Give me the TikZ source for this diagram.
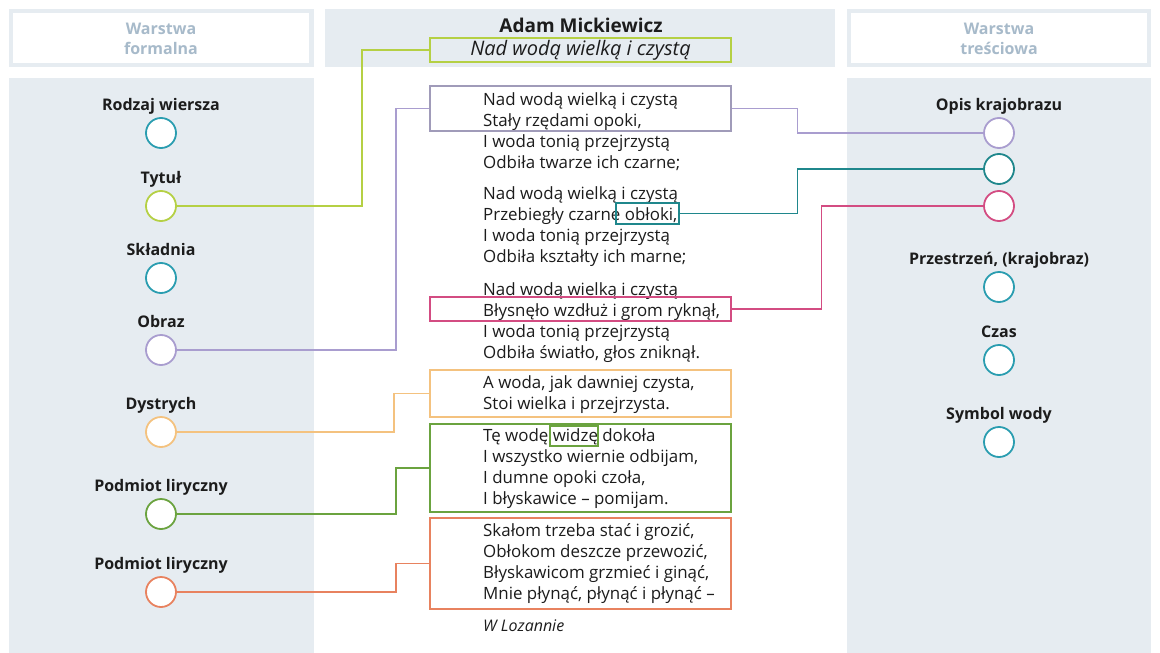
\documentclass[tikz,border=0pt]{standalone}
\usepackage{fontspec}
\setmainfont{Open Sans}
\usetikzlibrary{positioning}
\definecolor{panel}{HTML}{E6ECF1}
\definecolor{headtxt}{HTML}{A7BACA}
\definecolor{ink}{HTML}{1C1C1C}
\definecolor{cTeal}{HTML}{2A9DB0}
\definecolor{cLime}{HTML}{B5D044}
\definecolor{cPurple}{HTML}{A99DCF}
\definecolor{cGray}{HTML}{A09BB9}
\definecolor{cSand}{HTML}{F4C27F}
\definecolor{cGreen}{HTML}{6BA33F}
\definecolor{cCoral}{HTML}{E8825F}
\definecolor{cPetrol}{HTML}{1F878C}
\definecolor{cPink}{HTML}{D34C82}
\begin{document}
\begin{tikzpicture}[x=1pt,y=-1pt]
% style
\tikzset{
head/.style={font=\bfseries\fontsize{16}{20}\selectfont, text=headtxt, align=center},
dot/.style={circle, draw=#1, line width=1.8pt, fill=white, minimum size=30pt, inner sep=0pt},
lbl/.style={font=\bfseries\fontsize{16}{20}\selectfont, text=ink, inner sep=0pt, text height=12pt, text depth=4pt},
stanza/.style={font=\fontsize{16.9}{21}\selectfont, text=ink, align=left, inner sep=0pt, anchor=base west},
frame/.style={draw=#1, line width=1.3pt, inner sep=0pt},
link/.style={draw=#1, line width=1.3pt}
}
\useasboundingbox (0,0) rectangle (1160,653);
% tla kolumn
\fill[white] (0,0) rectangle (1160,653);
\fill[panel] (9,9) rectangle (314,67);
\fill[white] (13,13) rectangle (309,63);
\fill[panel] (9,78) rectangle (314,653);
\fill[panel] (325,9) rectangle (835,67);
\fill[panel] (847,9) rectangle (1151,67);
\fill[white] (851,13) rectangle (1147,63);
\fill[panel] (847,78) rectangle (1151,653);
% naglowki
\node[head] (hForm) at (161,39) {Warstwa\\formalna};
\node[head] (hTresc) at (999,39) {Warstwa\\treściowa};
\node[font=\bfseries\fontsize{19}{23}\selectfont, text=ink] (autor) at (581,25) {Adam Mickiewicz};
\node[frame=cLime, minimum width=301pt, minimum height=24pt, font=\itshape\fontsize{20}{24}\selectfont, text=ink] (bTytul) at (580.5,50) {Nad wodą wielką i czystą};
% warstwa formalna
\node[dot=cTeal] (cRodzaj) at (161,133) {};
\node[lbl, above=2pt of cRodzaj] (lRodzaj) {Rodzaj wiersza};
\node[dot=cLime] (cTytul) at (161,206) {};
\node[lbl, above=2pt of cTytul] (lTytul) {Tytuł};
\node[dot=cTeal] (cSkladnia) at (161,278) {};
\node[lbl, above=2pt of cSkladnia] (lSkladnia) {Składnia};
\node[dot=cPurple] (cObraz) at (161,350) {};
\node[lbl, above=2pt of cObraz] (lObraz) {Obraz};
\node[dot=cSand] (cDystrych) at (161,432) {};
\node[lbl, above=2pt of cDystrych] (lDystrych) {Dystrych};
\node[dot=cGreen] (cPodmiotA) at (161,514) {};
\node[lbl, above=2pt of cPodmiotA] (lPodmiotA) {Podmiot liryczny};
\node[dot=cCoral] (cPodmiotB) at (161,592) {};
\node[lbl, above=2pt of cPodmiotB] (lPodmiotB) {Podmiot liryczny};
% warstwa tresciowa
\node[dot=cPurple] (oOpis) at (999,133) {};
\node[lbl, above=2pt of oOpis] (lOpis) {Opis krajobrazu};
\node[dot=cPetrol] (oOpisB) at (999,169) {};
\node[dot=cPink] (oOpisC) at (999,206) {};
\node[dot=cTeal] (oPrzestrzen) at (999,287) {};
\node[lbl, above=2pt of oPrzestrzen] (lPrzestrzen) {Przestrzeń, (krajobraz)};
\node[dot=cTeal] (oCzas) at (999,360) {};
\node[lbl, above=2pt of oCzas] (lCzas) {Czas};
\node[dot=cTeal] (oSymbol) at (999,442) {};
\node[lbl, above=2pt of oSymbol] (lSymbol) {Symbol wody};
% wiersz (punkt = linia bazowa ostatniego wersu)
\node[stanza] (s1) at (483,168) {Nad wodą wielką i czystą\\Stały rzędami opoki,\\I woda tonią przejrzystą\\Odbiła twarze ich czarne;};
\node[stanza] (s2) at (483,262) {Nad wodą wielką i czystą\\Przebiegły czarne obłoki,\\I woda tonią przejrzystą\\Odbiła kształty ich marne;};
\node[stanza] (s3) at (483,358) {Nad wodą wielką i czystą\\Błysnęło wzdłuż i grom ryknął,\\I woda tonią przejrzystą\\Odbiła światło, głos zniknął.};
\node[stanza] (s4) at (483,409) {A woda, jak dawniej czysta,\\Stoi wielka i przejrzysta.};
\node[stanza] (s5) at (483,504) {Tę wodę widzę dokoła\\I wszystko wiernie odbijam,\\I dumne opoki czoła,\\I błyskawice – pomijam.};
\node[stanza] (s6) at (483,599) {Skałom trzeba stać i grozić,\\Obłokom deszcze przewozić,\\Błyskawicom grzmieć i ginąć,\\Mnie płynąć, płynąć i płynąć –};
\node[stanza, font=\itshape\fontsize{16}{21}\selectfont] (sMiejsce) at (483,631) {W Lozannie};
% ramki
\node[frame=cGray, minimum width=301pt, minimum height=45pt] (bOpis) at (580.5,108.5) {};
\node[frame=cPetrol, minimum width=63pt, minimum height=21pt] (bObloki) at (647.5,213.5) {};
\node[frame=cPink, minimum width=301pt, minimum height=24pt] (bBlysk) at (580.5,309) {};
\node[frame=cSand, minimum width=301pt, minimum height=47pt] (bDystrych) at (580.5,393.5) {};
\node[frame=cGreen, minimum width=48pt, minimum height=20pt] (bWidze) at (574,436) {};
\node[frame=cGreen, minimum width=301pt, minimum height=88pt] (bPodmiotA) at (580.5,468) {};
\node[frame=cCoral, minimum width=301pt, minimum height=91pt] (bPodmiotB) at (580.5,563.5) {};
% polaczenia
\draw[link=cLime] (cTytul.east) -- ++(185,0) |- (bTytul.west);
\draw[link=cPurple] (cObraz.east) -- ++(219,0) |- (bOpis.west);
\draw[link=cSand] (cDystrych.east) -- ++(217,0) |- (bDystrych.west);
\draw[link=cGreen] (cPodmiotA.east) -- ++(219,0) |- (bPodmiotA.west);
\draw[link=cCoral] (cPodmiotB.east) -- ++(219,0) |- (bPodmiotB.west);
\draw[link=cPurple] (bOpis.east) -- ++(66,0) |- (oOpis.west);
\draw[link=cPetrol] (bObloki.east) -- ++(118,0) |- (oOpisB.west);
\draw[link=cPink] (bBlysk.east) -- ++(90,0) |- (oOpisC.west);
\end{tikzpicture}
\end{document}
